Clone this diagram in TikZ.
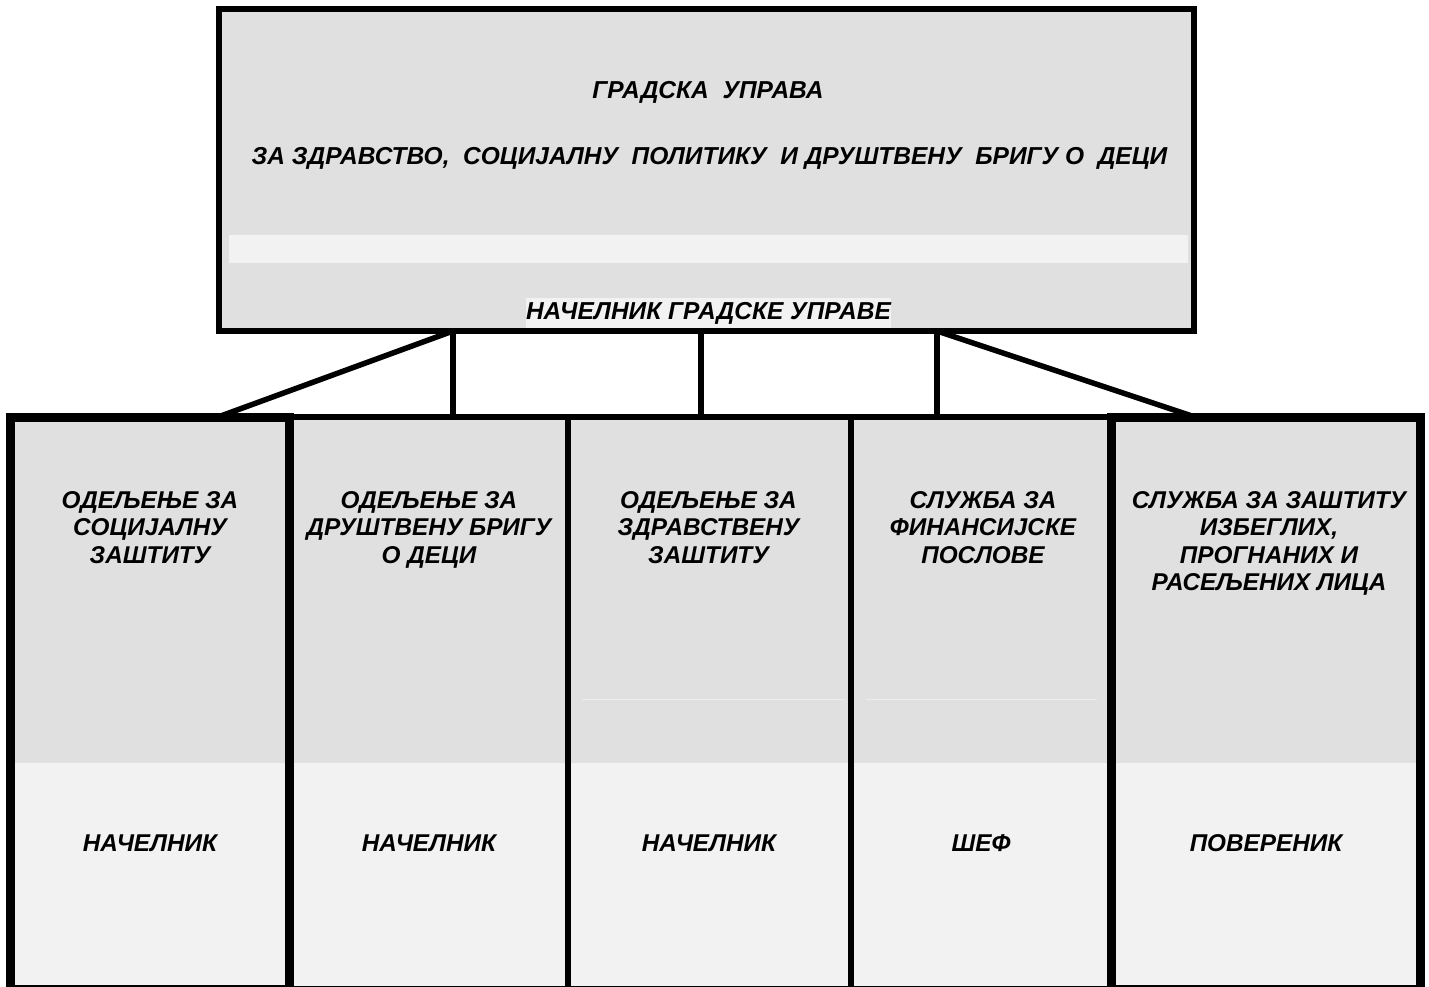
\documentclass[tikz,border=0pt]{standalone}
\usepackage{fontspec}
\setmainfont{Liberation Sans}
\definecolor{boxgray}{RGB}{224,224,224}
\definecolor{boxlight}{RGB}{242,242,242}
\definecolor{faint}{RGB}{236,236,236}
\begin{document}
\begin{tikzpicture}[x=1pt,y=-1pt,
  txt/.style={font=\fontsize{24.3}{27.6}\selectfont\bfseries\itshape, align=center, inner sep=0pt},
  toptxt/.style={font=\fontsize{24.5}{28}\selectfont\bfseries\itshape, inner sep=0pt},
  topbox/.style={draw=black, line width=6pt, fill=boxgray, rectangle, inner sep=0pt},
  midbox/.style={draw=black, line width=6pt, rectangle, inner sep=0pt},
  endbox/.style={draw=black, line width=9pt, rectangle, inner sep=0pt},
  conn/.style={draw=black, line width=5.5pt}]
\useasboundingbox (0,0) rectangle (1429,987);
% top box
\node[topbox, minimum width=975pt, minimum height=322pt] (top) at (706.5,170) {};
\fill[boxlight] (229,235) rectangle (1188,263);
\node[toptxt] (title) at (708,92) {ГРАДСКА\ \ УПРАВА};
\node[toptxt] (subtitle) at (709.5,158) {ЗА ЗДРАВСТВО,\ \ СОЦИЈАЛНУ\ \ ПОЛИТИКУ\ \ И ДРУШТВЕНУ\ \ БРИГУ О\ \ ДЕЦИ};
\node[toptxt, fill=boxlight, minimum width=363pt, minimum height=30pt] (head) at (708.5,313) {НАЧЕЛНИК ГРАДСКЕ УПРАВЕ};
% lower backgrounds
\fill[boxgray] (10.5,417) rectangle (1420,763);
\fill[boxlight] (10.5,763) rectangle (1420,992);
\draw[faint, line width=1pt] (582,699) -- (845,699);
\draw[faint, line width=1pt] (866,699) -- (1097,699);
% connector points
\coordinate (p1) at (453,331);
\coordinate (p2) at (701,331);
\coordinate (p3) at (937,331);
\coordinate (q1) at (218,417);
\coordinate (q5) at (1195,417);
% lower boxes
\node[midbox, minimum width=279pt, minimum height=572pt] (b2) at (428.5,703) {};
\node[midbox, minimum width=282.5pt, minimum height=572pt] (b3) at (709.25,703) {};
\node[midbox, minimum width=261pt, minimum height=572pt] (b4) at (981,703) {};
\node[endbox, minimum width=278.5pt, minimum height=572pt] (b1) at (149.75,703.5) {};
\node[endbox, minimum width=308.5pt, minimum height=572pt] (b5) at (1265.75,703.5) {};
% connectors
\draw[conn] (p1) -- (q1);
\draw[conn] (p1) -- (p1 |- b2.north);
\draw[conn] (p2) -- (p2 |- b3.north);
\draw[conn] (p3) -- (p3 |- b4.north);
\draw[conn] (p3) -- (q5);
% headers
\node[txt, anchor=north] (h1) at (150,491) {ОДЕЉЕЊЕ ЗА\\СОЦИЈАЛНУ\\ЗАШТИТУ};
\node[txt, anchor=north] (h2) at (429,491) {ОДЕЉЕЊЕ ЗА\\ДРУШТВЕНУ БРИГУ\\О ДЕЦИ};
\node[txt, anchor=north] (h3) at (708.5,491) {ОДЕЉЕЊЕ ЗА\\ЗДРАВСТВЕНУ\\ЗАШТИТУ};
\node[txt, anchor=north] (h4) at (983,491) {СЛУЖБА ЗА\\ФИНАНСИЈСКЕ\\ПОСЛОВЕ};
\node[txt, anchor=north] (h5) at (1269,491) {СЛУЖБА ЗА ЗАШТИТУ\\ИЗБЕГЛИХ,\\ПРОГНАНИХ И\\РАСЕЉЕНИХ ЛИЦА};
% chiefs
\node[txt] (c1) at (150,843) {НАЧЕЛНИК};
\node[txt] (c2) at (429,843) {НАЧЕЛНИК};
\node[txt] (c3) at (709,843) {НАЧЕЛНИК};
\node[txt] (c4) at (981,843) {ШЕФ};
\node[txt] (c5) at (1266,843) {ПОВЕРЕНИК};
\end{tikzpicture}
\end{document}
